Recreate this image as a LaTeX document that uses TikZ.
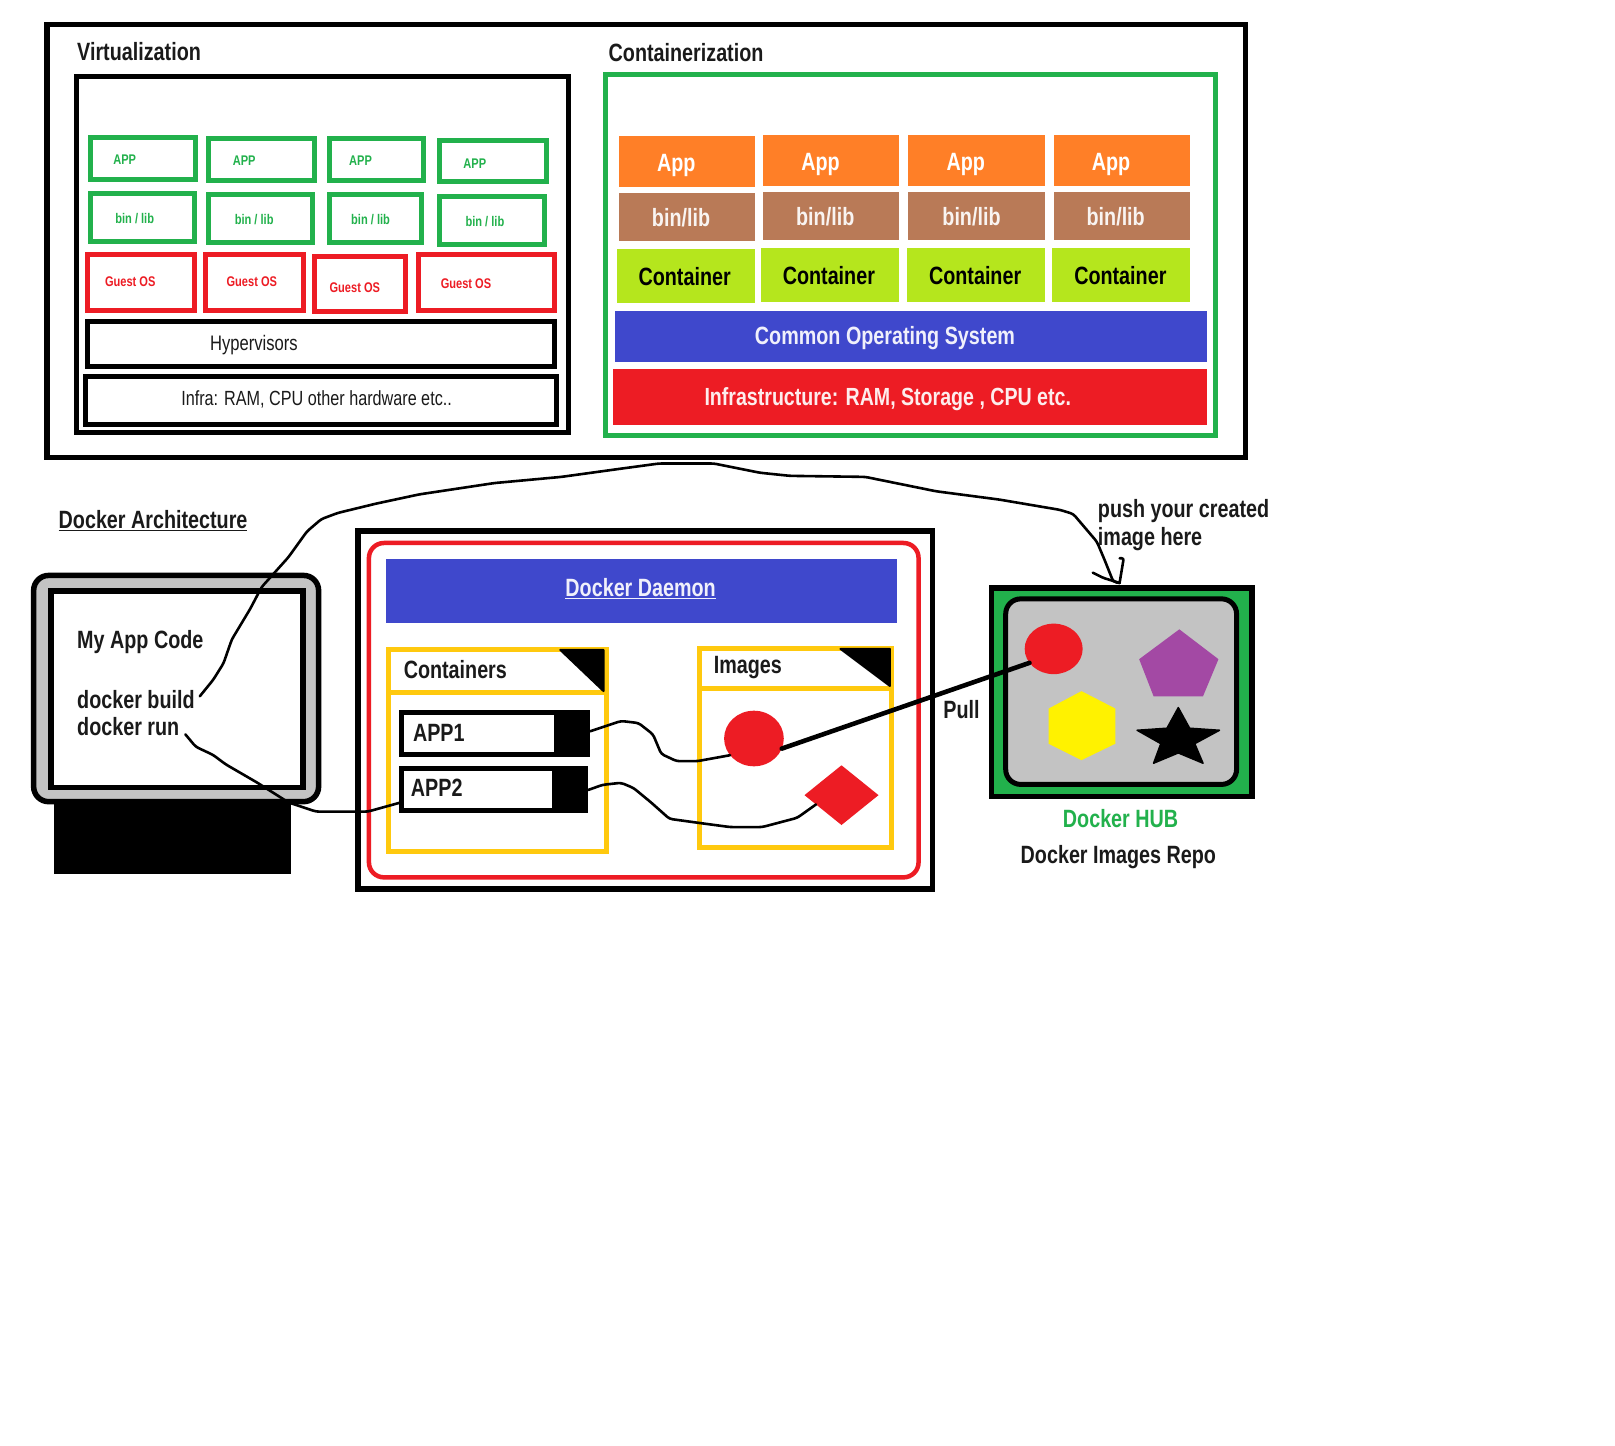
\documentclass[tikz,border=0pt]{standalone}
\usepackage{fontspec}
\setmainfont[FakeStretch=0.79]{Liberation Sans}
\usetikzlibrary{shapes.geometric}
\definecolor{cgreen}{HTML}{22B14C}
\definecolor{cred}{HTML}{ED1C24}
\definecolor{corange}{HTML}{FF7F27}
\definecolor{cbrown}{HTML}{B97A57}
\definecolor{clime}{HTML}{B5E61D}
\definecolor{cblue}{HTML}{3F48CC}
\definecolor{cyel}{HTML}{FFC90E}
\definecolor{cgray}{HTML}{C3C3C3}
\definecolor{cpurple}{HTML}{A349A4}
\definecolor{cbright}{HTML}{FFF200}
\definecolor{cink}{HTML}{1A1A1A}
\tikzset{
  blk/.style={draw=black},
  grn/.style={draw=cgreen},
  rdb/.style={draw=cred},
  yel/.style={draw=cyel},
  solid fill/.style={fill=#1,draw=none},
  lab/.style={anchor=mid west,inner sep=0pt,outer sep=0pt,text=cink},
  wire/.style={draw=black,line width=2.6pt,rounded corners=3pt,line cap=round,line join=round},
}
% name, style, line width, x1,y1,x2,y2 (outer edges)
\newcommand\bnode[7]{\node[#2,line width=#3pt,inner sep=0pt,outer sep=0pt,
  minimum width={(#6-#4)*1.03pt-#3pt},minimum height={(#7-#5)*1.03pt-#3pt}]
  (#1) at ({(#4+#6)/2},{(#5+#7)/2}) {};}
% name, x, y, size, colour, text
\newcommand\tx[6]{\node[lab,text=#5,yshift={-0.19*#4pt},font=\fontsize{#4pt}{#4pt}\selectfont\bfseries] (#1) at (#2,#3) {#6};}
\newcommand\tr[6]{\node[lab,text=#5,yshift={-0.19*#4pt},font=\fontsize{#4pt}{#4pt}\selectfont] (#1) at (#2,#3) {#6};}
\begin{document}
\begin{tikzpicture}[x=1.03pt,y=-1.03pt]
\useasboundingbox (0,0) rectangle (1568,1403);
\fill[white] (0,0) rectangle (1568,1403);
% top panel
\bnode{outer}{blk}{5.5}{43}{21}{1212}{447}
\bnode{vbox}{blk}{5}{72}{72}{554}{422}
\tx{tv}{75}{52}{25}{cink}{Virtualization}
\bnode{a1}{grn}{5}{85}{131}{192}{177}
\bnode{a2}{grn}{5}{200}{132}{308}{178}
\bnode{a3}{grn}{5}{317}{132}{414}{178}
\bnode{a4}{grn}{5}{424}{134}{533}{179}
\bnode{b1}{grn}{5}{85}{185}{191}{237}
\bnode{b2}{grn}{5}{200}{186}{306}{238}
\bnode{b3}{grn}{5}{317}{186}{412}{238}
\bnode{b4}{grn}{5}{424}{188}{531}{240}
\bnode{g1}{rdb}{5}{83}{245}{191}{304}
\bnode{g2}{rdb}{5}{197}{245}{297}{304}
\bnode{g3}{rdb}{5}{303}{247}{396}{305}
\bnode{g4}{rdb}{5}{404}{245}{541}{304}
\bnode{hy}{blk}{5}{83}{310}{541}{358}
\bnode{inf}{blk}{5}{81}{363}{543}{415}
\tx{ta1}{110}{155}{14}{cgreen}{APP}
\tx{ta2}{226}{156}{14}{cgreen}{APP}
\tx{ta3}{339}{156}{14}{cgreen}{APP}
\tx{ta4}{450}{158}{14}{cgreen}{APP}
\tx{tb1}{112}{212}{14}{cgreen}{bin / lib}
\tx{tb2}{228}{213}{14}{cgreen}{bin / lib}
\tx{tb3}{341}{213}{14}{cgreen}{bin / lib}
\tx{tb4}{452}{215}{14}{cgreen}{bin / lib}
\tx{tg1}{102}{273}{14}{cred}{Guest OS}
\tx{tg2}{220}{273}{14}{cred}{Guest OS}
\tx{tg3}{320}{279}{14}{cred}{Guest OS}
\tx{tg4}{428}{275}{14}{cred}{Guest OS}
\tr{thy}{204}{334}{21}{cink}{Hypervisors}
\tr{tinf}{176}{387}{20.5}{cink}{Infra: RAM, CPU other hardware etc..}
% containerization
\tx{tc}{591}{53}{25}{cink}{Containerization}
\bnode{cbox}{grn}{5}{585}{70}{1183}{425}
\bnode{o1}{solid fill=corange}{0}{601}{132}{733}{182}
\bnode{o2}{solid fill=corange}{0}{741}{131}{873}{181}
\bnode{o3}{solid fill=corange}{0}{882}{131}{1015}{181}
\bnode{o4}{solid fill=corange}{0}{1023}{131}{1155.5}{181}
\bnode{r1}{solid fill=cbrown}{0}{601}{187}{733}{234}
\bnode{r2}{solid fill=cbrown}{0}{741}{186}{873}{233}
\bnode{r3}{solid fill=cbrown}{0}{882}{186}{1015}{233}
\bnode{r4}{solid fill=cbrown}{0}{1023}{186}{1155.5}{233}
\bnode{l1}{solid fill=clime}{0}{599}{242}{733}{294}
\bnode{l2}{solid fill=clime}{0}{739}{241}{873}{293}
\bnode{l3}{solid fill=clime}{0}{881}{241}{1015}{293}
\bnode{l4}{solid fill=clime}{0}{1021}{241}{1155.5}{293}
\bnode{cos}{solid fill=cblue}{0}{597}{302}{1172}{351.5}
\bnode{cin}{solid fill=cred}{0}{595}{358}{1172}{413}
\tx{to1}{638}{159}{25}{white}{App}
\tx{to2}{778}{158}{25}{white}{App}
\tx{to3}{919}{158}{25}{white}{App}
\tx{to4}{1060}{158}{25}{white}{App}
\tx{tr1}{633}{213}{25}{white!92!cbrown}{bin/lib}
\tx{tr2}{773}{212}{25}{white!92!cbrown}{bin/lib}
\tx{tr3}{915}{212}{25}{white!92!cbrown}{bin/lib}
\tx{tr4}{1055}{212}{25}{white!92!cbrown}{bin/lib}
\tx{tl1}{620}{270}{25}{black}{Container}
\tx{tl2}{760}{269}{25}{black}{Container}
\tx{tl3}{902}{269}{25}{black}{Container}
\tx{tl4}{1043}{269}{25}{black}{Container}
\tx{tcos}{733}{327}{25}{white!92!cblue}{Common Operating System}
\tx{tcin}{684}{387}{24.8}{white!92!cred}{Infrastructure: RAM, Storage , CPU etc.}
% docker architecture
\tx{tda}{57}{506}{25}{cink}{\underline{Docker Architecture}}
\bnode{stand}{solid fill=black}{0}{52}{778}{282.5}{848.5}
\bnode{mon}{blk,fill=cgray,rounded corners=15pt}{5.5}{30}{556}{312}{781}
\bnode{scr}{blk,fill=white}{5.5}{47}{571}{297}{767}
\tx{tcode}{75}{622}{25}{cink}{My App Code}
\tx{tbuild}{75}{681}{25}{cink}{docker build}
\tx{trun}{75}{707}{25}{cink}{docker run}
% daemon
\bnode{dout}{blk}{5.5}{345}{513}{908}{866}
\bnode{dred}{rdb,rounded corners=15pt}{4.5}{356}{525}{894}{854}
\bnode{dbar}{solid fill=cblue}{0}{375}{543}{871}{605}
\tx{tdd}{549}{572}{25}{white!92!cblue}{\underline{Docker Daemon}}
% containers
\bnode{cont}{yel}{5}{375}{628}{591}{829}
\draw[cyel,line width=5pt] (cont.west |- 0,672) -- (cont.east |- 0,672);
\fill[black,line join=round,draw=black,line width=2pt] (544,631) -- (586,631) -- (586,671) -- cycle;
\tx{tcont}{392}{652}{25}{cink}{Containers}
\bnode{ap1}{blk,fill=white}{5}{387}{689}{573}{735}
\bnode{ap1k}{solid fill=black}{0}{538}{689}{573}{735}
\tx{tap1}{401}{712.5}{25}{cink}{APP1}
\bnode{ap2}{blk,fill=white}{5}{387}{743.5}{571}{789}
\bnode{ap2k}{solid fill=black}{0}{536}{743.5}{571}{789}
\tx{tap2}{399}{766.5}{25}{cink}{APP2}
% images
\bnode{imgs}{yel}{5}{677}{627}{868}{825}
\draw[cyel,line width=5pt] (imgs.west |- 0,668) -- (imgs.east |- 0,668);
\fill[black,line join=round,draw=black,line width=2pt] (816,630) -- (864,630) -- (864,666) -- cycle;
\tx{timg}{693}{647}{25}{cink}{Images}
\node[ellipse,fill=cred,inner sep=0pt,outer sep=0pt,minimum width=59.7pt,minimum height=55.6pt] (ic) at (732,717) {};
\node[diamond,fill=cred,inner sep=0pt,outer sep=0pt,minimum width=74pt,minimum height=59.7pt] (id) at (817,772) {};
% hub
\bnode{hub}{blk,fill=cgreen}{5.5}{960}{568}{1218}{776}
\bnode{hin}{blk,fill=cgray,rounded corners=15pt}{5}{974}{579}{1203}{764}
\node[ellipse,fill=cred,inner sep=0pt,outer sep=0pt,minimum width=58pt,minimum height=50.5pt] (hc) at (1023,630) {};
\fill[cpurple] (1145,611) -- (1183,640) -- (1168,676) -- (1120,676) -- (1106,640) -- cycle;
\fill[cbright] (1050,671) -- (1083,688) -- (1083,722) -- (1050,738) -- (1018,722) -- (1018,688) -- cycle;
\fill[black,draw=black,line width=1.5pt,line join=round] (1144,687) -- (1155,707) -- (1184,709) -- (1160,722) -- (1168,741) -- (1144,731) -- (1120,741) -- (1127,722) -- (1104,709) -- (1133,707) -- cycle;
\tx{thub}{1032}{796}{25}{cgreen}{Docker HUB}
\tx{trepo}{991}{831}{25}{cink}{Docker Images Repo}
\tx{tpull}{916}{690}{25}{cink}{Pull}
\tx{tpush}{1066}{495}{25}{cink}{push your created}
\tx{there}{1066}{522}{25}{cink}{image here}
% connectors
\coordinate (pushstart) at (194,676);
\coordinate (pushend) at (1087,566);
\coordinate (runstart) at (180,713);
\draw[wire] (pushstart) -- (207,660) -- (217,644) -- (225,621) -- (243,591) -- (254,570) -- (280,541) -- (298,516) -- (312,504) -- (328,498) -- (365,489) -- (407,480) -- (480,469) -- (545,463) -- (603,455) -- (640,450) -- (693,450) -- (738,459) -- (767,462) -- (840,463) -- (909,477) -- (970,485) -- (1029,495) -- (1042,499) -- (1065,526) -- (1073,545) -- (1081,565) -- (pushend);
\draw[wire,rounded corners=2pt] (pushend) -- (1071,561) -- (1061,556);
\draw[wire,rounded corners=2pt] (pushend) -- (1091,542) -- (1087,542);
\draw[wire] (runstart) -- (190,725) -- (207,733) -- (219,742) -- (250,760) -- (280,779) -- (307,788) -- (357,788) -- (ap2.west |- 0,779);
\draw[wire] (ap1k.east |- 0,710) -- (603,700) -- (620,702) -- (634,713) -- (642,732) -- (657,739) -- (677,739) -- (ic.215);
\draw[wire] (ap2k.east |- 0,767) -- (585,762) -- (603,760) -- (615,765) -- (632,779) -- (650,795) -- (679,799) -- (709,803) -- (740,803) -- (774,794) -- (id.200);
\draw[black,line width=4.6pt,line cap=round] (ic.340) -- (hc.210);
\end{tikzpicture}
\end{document}
